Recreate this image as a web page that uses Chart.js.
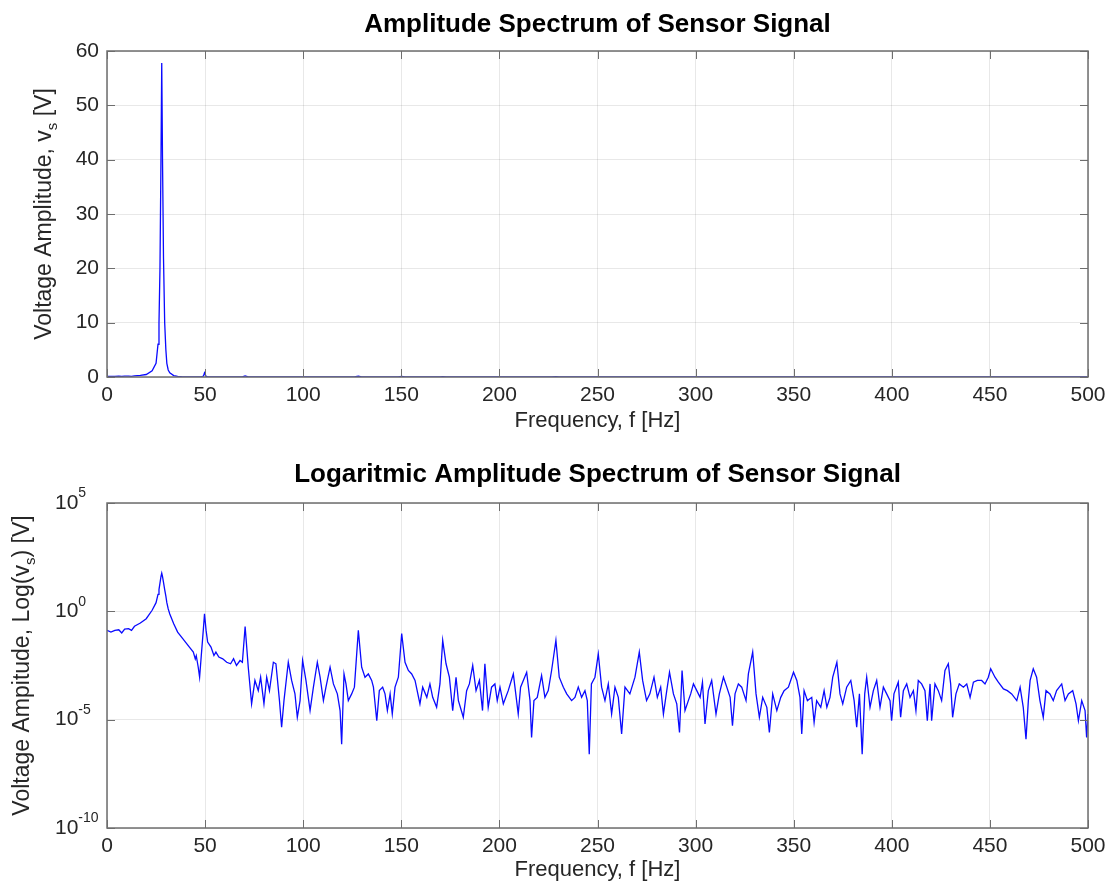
<!DOCTYPE html>
<html>
<head>
<meta charset="utf-8">
<title>Amplitude Spectrum of Sensor Signal</title>
<script src="https://cdn.jsdelivr.net/npm/chart.js@4.4.1/dist/chart.umd.min.js"></script>
<style>
  html, body { margin: 0; padding: 0; background: #ffffff; }
  #wrap { position: relative; width: 1112px; height: 884px; }
  #wrap canvas { position: absolute; left: 0; }
</style>
</head>
<body>
<div id="wrap">
  <canvas id="linChart" width="1112" height="442" style="top:0px"></canvas>
  <canvas id="logChart" width="1112" height="442" style="top:442px"></canvas>
</div>
<script>
// Spectrum samples: frequency in Hz and log10 of the amplitude in volts
const freqHz = [
  0, 2, 4, 6, 7.5, 9, 11, 12.5, 14, 17,
  20, 23, 25, 26, 26.5, 27, 27.5, 27.9, 28.3, 28.8,
  29.4, 30, 30.5, 31.2, 32, 34, 36, 38, 40, 42,
  44, 45, 45.5, 46.5, 47.2, 48, 49.2, 49.7, 50.5, 51.3,
  53, 54.5, 55.5, 57, 59, 61, 63, 64.5, 66, 67.8,
  69, 70.4, 72.0, 73.7, 75.4, 77.1, 78.3, 80.0, 81.4, 82.8,
  84.8, 86.1, 87.9, 89.0, 90.2, 92.4, 94.1, 95.8, 97.0, 98.4,
  99.7, 101.4, 103.5, 105.2, 107.2, 108.6, 110.3, 111.6, 113.7, 115.4,
  117.4, 118.8, 119.6, 120.8, 121.8, 123.0, 124.7, 126.1, 128.1, 129.8,
  131.5, 133.2, 134.9, 135.8, 137.5, 138.8, 140.5, 141.7, 142.9, 144.3,
  145.4, 146.8, 148.5, 150.2, 151.9, 153.6, 155.3, 157.0, 159.5, 160.9,
  163.0, 164.6, 166.0, 168.0, 169.7, 171.1, 172.8, 174.5, 176.2, 177.9,
  179.1, 181.6, 183.3, 184.7, 186.4, 188.1, 189.8, 191.4, 192.6, 194.3,
  196.0, 197.7, 198.9, 200.3, 202.0, 204.5, 207.1, 209.6, 210.8, 213.9,
  215.6, 216.4, 217.6, 219.3, 221.5, 223.2, 224.9, 226.6, 228.8, 230.5,
  232.6, 234.3, 236.8, 238.5, 240.2, 241.9, 243.6, 244.8, 245.8, 246.9,
  248.7, 250.4, 252.1, 253.8, 255.5, 257.2, 258.9, 260.6, 262.3, 264.0,
  266.5, 269.1, 271.3, 273.0, 275.0, 276.7, 278.8, 280.5, 282.2, 283.6,
  285.3, 286.7, 288.7, 290.4, 291.8, 293.1, 294.6, 296.3, 297.5, 298.9,
  300.6, 302.3, 303.5, 304.8, 306.5, 308.2, 310.4, 312.1, 314.2, 315.9,
  317.6, 318.8, 320.1, 321.8, 323.5, 325.7, 326.9, 329.1, 330.8, 332.5,
  334.2, 336.3, 337.6, 339.3, 341.4, 343.4, 345.1, 347.3, 349.9, 351.6,
  353.2, 354.1, 355.3, 357.0, 359.2, 360.4, 361.7, 363.8, 365.5, 366.9,
  368.5, 369.9, 372.0, 373.6, 375.0, 377.0, 379.1, 380.8, 382.1, 383.5,
  384.9, 386.2, 387.2, 388.9, 390.6, 392.3, 394.0, 395.7, 397.4, 399.1,
  399.9, 401.1, 403.3, 404.5, 405.9, 407.6, 409.3, 411.0, 412.3, 413.5,
  415.2, 416.9, 418.1, 419.5, 420.3, 422.0, 423.7, 425.4, 427.1, 428.8,
  430.0, 431.0, 432.7, 434.4, 436.5, 438.2, 439.9, 441.6, 443.6, 445.8,
  447.5, 449.2, 450.4, 452.6, 454.3, 456.9, 458.9, 461.1, 463.7, 465.4,
  467.0, 468.4, 469.6, 470.5, 472.1, 473.8, 475.5, 477.2, 478.6, 480.6,
  482.3, 484.0, 486.6, 488.3, 490.0, 492.2, 493.9, 495.1, 496.8, 498.5,
  499.3, 500
];

const logAmp = [
  -0.88, -0.96, -0.88, -0.85, -1.0, -0.82, -0.8, -0.88, -0.69, -0.54,
  -0.34, 0.05, 0.4, 0.78, 1.0, 1.3, 1.6, 1.762, 1.6, 1.34,
  1.0, 0.7, 0.4, 0.11, -0.12, -0.57, -0.96, -1.19, -1.42, -1.65,
  -1.88, -2.2, -2.05, -2.58, -3.04, -2.11, -0.73, -0.11, -0.88, -1.42,
  -1.65, -2.04, -1.88, -2.11, -2.19, -2.35, -2.42, -2.19, -2.5, -2.27,
  -2.35, -0.7, -2.58, -4.27, -3.19, -3.66, -3.04, -4.27, -3.04, -3.66,
  -2.35, -2.42, -4.12, -5.35, -4.12, -2.35, -3.19, -3.81, -4.89, -4.12,
  -2.27, -3.19, -4.58, -3.5, -2.35, -3.04, -4.12, -3.5, -2.58, -3.35,
  -3.81, -4.58, -6.13, -2.89, -3.35, -4.12, -3.81, -3.5, -0.88, -2.58,
  -3.04, -2.89, -3.19, -3.5, -5.05, -3.66, -3.5, -3.81, -4.58, -3.81,
  -4.74, -3.5, -3.04, -1.03, -2.35, -2.73, -2.89, -3.19, -4.27, -3.5,
  -3.97, -3.35, -3.97, -4.43, -3.35, -1.34, -2.42, -3.04, -4.58, -3.04,
  -4.12, -4.89, -3.66, -3.35, -2.5, -3.66, -3.19, -4.58, -2.42, -4.43,
  -3.5, -3.35, -4.12, -3.5, -4.27, -3.66, -2.89, -4.74, -3.5, -2.81,
  -4.12, -5.82, -4.12, -3.97, -2.96, -3.97, -3.66, -2.73, -1.34, -3.04,
  -3.5, -3.81, -4.12, -3.97, -3.5, -3.97, -3.66, -4.12, -6.59, -3.35,
  -3.04, -1.96, -3.5, -4.12, -3.35, -4.74, -3.5, -3.97, -5.66, -3.5,
  -3.81, -3.04, -1.88, -3.19, -4.12, -3.81, -3.04, -3.97, -3.5, -4.74,
  -3.66, -2.81, -3.81, -4.27, -5.59, -2.73, -4.58, -4.12, -3.81, -3.35,
  -3.66, -3.97, -3.27, -5.2, -3.66, -3.19, -4.74, -3.81, -3.04, -3.5,
  -3.97, -5.28, -3.81, -3.35, -3.5, -4.12, -2.89, -1.88, -3.81, -4.89,
  -3.97, -4.43, -5.59, -3.81, -4.58, -3.97, -3.66, -3.5, -2.81, -3.19,
  -3.97, -5.66, -3.66, -4.12, -3.97, -5.12, -4.12, -4.43, -3.66, -4.43,
  -3.97, -3.04, -2.35, -3.81, -4.27, -3.5, -3.19, -4.12, -5.35, -3.81,
  -6.59, -3.81, -3.04, -4.43, -3.66, -3.19, -4.43, -3.5, -3.81, -4.12,
  -5.05, -3.81, -3.27, -4.89, -3.66, -3.35, -3.97, -3.66, -4.58, -3.19,
  -3.35, -3.66, -5.05, -3.35, -5.05, -3.35, -3.66, -4.12, -2.73, -2.42,
  -3.35, -4.89, -3.81, -3.35, -3.5, -3.35, -3.97, -3.27, -3.19, -3.19,
  -3.35, -3.04, -2.65, -3.04, -3.27, -3.58, -3.66, -3.81, -4.12, -3.5,
  -4.43, -5.9, -4.12, -3.19, -2.65, -3.04, -4.12, -4.89, -3.66, -3.81,
  -4.12, -3.66, -3.35, -4.12, -3.81, -3.66, -4.27, -5.05, -4.12, -4.58,
  -5.82, -4.74
];

// Axis tick positions
const freqTicks = [0, 50, 100, 150, 200, 250, 300, 350, 400, 450, 500];
const voltTicks = [0, 10, 20, 30, 40, 50, 60];
const decadeTicks = [-10, -5, 0, 5];

const FONT = '"Liberation Sans", Arial, Helvetica, sans-serif';
const TEXT = '#262626';
const FRAME = '#6e6e6e';
const GRID = 'rgba(0,0,0,0.09)';
const LINE = '#0a0aff';

const spectrumPoints = freqHz.map((f, i) => ({ x: f, y: Math.pow(10, logAmp[i]) }));

// Writes a run of text pieces; pieces flagged sub/sup are smaller and shifted
function pieceFont(p, size) {
  return (p.sub || p.sup ? Math.round(size * 0.66) : size) + 'px ' + FONT;
}
function drawPieces(ctx, pieces, size, startX) {
  let x = startX;
  pieces.forEach(p => {
    ctx.font = pieceFont(p, size);
    const dy = p.sub ? size * 0.32 : (p.sup ? -size * 0.45 : 0);
    ctx.fillText(p.t, x, dy);
    x += ctx.measureText(p.t).width;
  });
}
function piecesWidth(ctx, pieces, size) {
  let w = 0;
  pieces.forEach(p => { ctx.font = pieceFont(p, size); w += ctx.measureText(p.t).width; });
  return w;
}

// Box, inward tick marks, titles and the power-of-ten labels
const framePlugin = {
  id: 'spectrumFrame',
  afterDraw(chart, args, o) {
    const { ctx, chartArea: a, scales } = chart;
    const xs = scales.x, ys = scales.y;
    ctx.save();
    ctx.strokeStyle = FRAME;
    ctx.lineWidth = 1;
    ctx.beginPath();
    xs.ticks.forEach(t => {
      const px = Math.round(xs.getPixelForValue(t.value)) + 0.5;
      ctx.moveTo(px, a.bottom); ctx.lineTo(px, a.bottom - 8);
      ctx.moveTo(px, a.top); ctx.lineTo(px, a.top + 8);
    });
    ys.ticks.forEach(t => {
      const py = Math.round(ys.getPixelForValue(t.value)) + 0.5;
      ctx.moveTo(a.left, py); ctx.lineTo(a.left + 8, py);
      ctx.moveTo(a.right, py); ctx.lineTo(a.right - 8, py);
    });
    ctx.stroke();
    ctx.lineWidth = 1.5;
    ctx.strokeRect(a.left, a.top, a.right - a.left, a.bottom - a.top);

    const cx = (a.left + a.right) / 2;
    ctx.textBaseline = 'middle';
    ctx.textAlign = 'center';
    ctx.fillStyle = '#000000';
    ctx.font = 'bold ' + o.titleSize + 'px ' + FONT;
    ctx.fillText(o.title, cx, o.titleY);

    ctx.fillStyle = TEXT;
    ctx.font = o.xLabelSize + 'px ' + FONT;
    ctx.fillText(o.xTitle, cx, o.xTitleY);

    // rotated y-axis title with subscript
    ctx.save();
    ctx.translate(o.yTitleX, (a.top + a.bottom) / 2);
    ctx.rotate(-Math.PI / 2);
    ctx.textAlign = 'left';
    const w = piecesWidth(ctx, o.yTitle, o.yLabelSize);
    drawPieces(ctx, o.yTitle, o.yLabelSize, -w / 2);
    ctx.restore();

    if (o.powerLabels) {
      ys.ticks.forEach(t => {
        const py = ys.getPixelForValue(t.value);
        const e = Math.round(Math.log10(t.value));
        ctx.save();
        ctx.translate(0, py);
        ctx.textAlign = 'left';
        drawPieces(ctx, [{ t: '10' }, { t: String(e), sup: true }], o.tickSize, 55);
        ctx.restore();
      });
    }
    ctx.restore();
  }
};

function xScale(height) {
  return {
    type: 'linear', min: 0, max: 500,
    afterBuildTicks: s => { s.ticks = freqTicks.map(v => ({ value: v })); },
    afterFit: s => { s.height = height; },
    grid: { color: GRID, lineWidth: 1, drawTicks: false },
    border: { display: false },
    ticks: { autoSkip: false, maxRotation: 0, padding: 6, color: TEXT, font: { family: FONT, size: 21 } }
  };
}

function spectrumDataset() {
  return {
    data: spectrumPoints,
    borderColor: LINE,
    borderWidth: 1.3,
    pointRadius: 0,
    tension: 0,
    fill: false
  };
}

new Chart(document.getElementById('linChart'), {
  type: 'line',
  data: { datasets: [spectrumDataset()] },
  plugins: [framePlugin],
  options: {
    responsive: false, animation: false, devicePixelRatio: 1,
    layout: { padding: { top: 51, right: 24, left: 0, bottom: 0 } },
    plugins: {
      legend: { display: false }, tooltip: { enabled: false },
      spectrumFrame: {
        title: 'Amplitude Spectrum of Sensor Signal', titleY: 25, titleSize: 26,
        xTitle: 'Frequency, f [Hz]', xTitleY: 421, xLabelSize: 22, yLabelSize: 23, tickSize: 21,
        yTitleX: 45,
        yTitle: [{ t: 'Voltage Amplitude, v' }, { t: 's', sub: true }, { t: ' [V]' }],
        powerLabels: false
      }
    },
    scales: {
      x: xScale(65),
      y: {
        type: 'linear', min: 0, max: 60,
        afterBuildTicks: s => { s.ticks = voltTicks.map(v => ({ value: v })); },
        afterFit: s => { s.width = 107; },
        grid: { color: GRID, lineWidth: 1, drawTicks: false },
        border: { display: false },
        ticks: { padding: 8, color: TEXT, font: { family: FONT, size: 21 } }
      }
    }
  }
});

new Chart(document.getElementById('logChart'), {
  type: 'line',
  data: { datasets: [spectrumDataset()] },
  plugins: [framePlugin],
  options: {
    responsive: false, animation: false, devicePixelRatio: 1,
    layout: { padding: { top: 61, right: 24, left: 0, bottom: 0 } },
    plugins: {
      legend: { display: false }, tooltip: { enabled: false },
      spectrumFrame: {
        title: 'Logaritmic Amplitude Spectrum of Sensor Signal', titleY: 33, titleSize: 26,
        xTitle: 'Frequency, f [Hz]', xTitleY: 428, xLabelSize: 22, yLabelSize: 23, tickSize: 21,
        yTitleX: 23,
        yTitle: [{ t: 'Voltage Ampitude, Log(v' }, { t: 's', sub: true }, { t: ') [V]' }],
        powerLabels: true
      }
    },
    scales: {
      x: xScale(56),
      y: {
        type: 'logarithmic', min: 1e-10, max: 1e5,
        afterBuildTicks: s => { s.ticks = decadeTicks.map(e => ({ value: Math.pow(10, e) })); },
        afterFit: s => { s.width = 107; },
        grid: { color: GRID, lineWidth: 1, drawTicks: false },
        border: { display: false },
        ticks: { callback: () => '', padding: 8 }
      }
    }
  }
});
</script>
</body>
</html>
